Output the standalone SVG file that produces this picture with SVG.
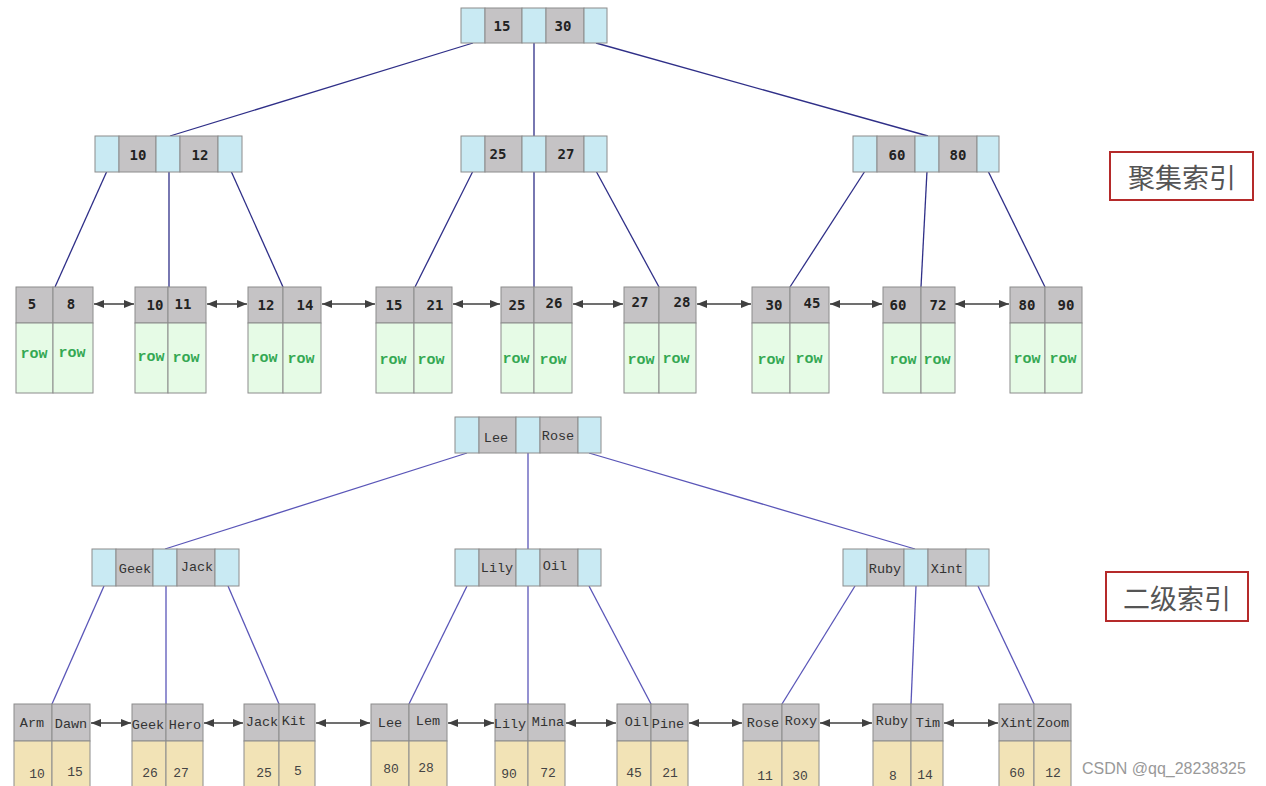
<svg xmlns="http://www.w3.org/2000/svg" width="1266" height="786" viewBox="0 0 1266 786">
<style>
.b{fill:#c9eaf3;stroke:#8c8c8c;stroke-width:1}
.g{fill:#c5c3c5;stroke:#8c8c8c;stroke-width:1}
.gr{fill:#e6fbe6;stroke:#8c8c8c;stroke-width:1}
.y{fill:#f2e3b6;stroke:#8c8c8c;stroke-width:1}
.kn{font-family:"DejaVu Sans Mono",monospace;font-weight:bold;font-size:14px;fill:#222;text-anchor:middle;dominant-baseline:central}
.row{font-family:"Courier New","Nimbus Mono PS","FreeMono","Liberation Mono",monospace;font-weight:bold;font-size:15px;fill:#34a853;text-anchor:middle;dominant-baseline:central}
.kt{font-family:"Courier New","Nimbus Mono PS","FreeMono","Liberation Mono",monospace;font-size:13.5px;fill:#333;text-anchor:middle;dominant-baseline:central}
.nv{font-family:"Courier New","Nimbus Mono PS","FreeMono","Liberation Mono",monospace;font-size:13px;fill:#444;text-anchor:middle;dominant-baseline:central}
.lt{stroke:#2f2f88;stroke-width:1.3;fill:none}
.lb{stroke:#5a56b8;stroke-width:1.3;fill:none}
.ar{stroke:#404040;stroke-width:1.3;fill:none;marker-start:url(#ah);marker-end:url(#ah)}
.lbl{font-family:"Noto Sans CJK SC","Noto Sans",sans-serif;font-size:27px;fill:#555;text-anchor:middle;dominant-baseline:central}
.box{fill:#fff;stroke:#b52a2a;stroke-width:2}
.wm{font-family:"Liberation Sans",Arial,sans-serif;font-size:16px;fill:#999}
</style>
<defs>
<marker id="ah" viewBox="0 0 10 8" refX="10" refY="4" markerWidth="10" markerHeight="8" markerUnits="userSpaceOnUse" orient="auto-start-reverse">
<path d="M0,0 L10,4 L0,8 Z" fill="#404040"/>
</marker>
</defs>
<rect width="1266" height="786" fill="#ffffff"/>

<g id="connectors">
<line class="lt" x1="473" y1="43" x2="170" y2="136"/>
<line class="lt" x1="534" y1="43" x2="534" y2="136"/>
<line class="lt" x1="596" y1="43" x2="928" y2="136"/>
<line class="lt" x1="107" y1="171" x2="55" y2="287"/>
<line class="lt" x1="169" y1="171" x2="169" y2="287"/>
<line class="lt" x1="231" y1="171" x2="283" y2="287"/>
<line class="lt" x1="473" y1="171" x2="415" y2="287"/>
<line class="lt" x1="534" y1="171" x2="534" y2="287"/>
<line class="lt" x1="596" y1="171" x2="659" y2="287"/>
<line class="lt" x1="865" y1="171" x2="790" y2="287"/>
<line class="lt" x1="927" y1="171" x2="921" y2="287"/>
<line class="lt" x1="988" y1="171" x2="1045" y2="287"/>
<line class="ar" x1="94" y1="304" x2="134" y2="304"/>
<line class="ar" x1="207" y1="304" x2="247" y2="304"/>
<line class="ar" x1="322" y1="304" x2="375" y2="304"/>
<line class="ar" x1="453" y1="304" x2="500" y2="304"/>
<line class="ar" x1="573" y1="304" x2="623" y2="304"/>
<line class="ar" x1="697" y1="304" x2="751" y2="304"/>
<line class="ar" x1="830" y1="304" x2="882" y2="304"/>
<line class="ar" x1="955" y1="304" x2="1009" y2="304"/>

<line class="lb" x1="467" y1="453" x2="165" y2="549"/>
<line class="lb" x1="528" y1="453" x2="528" y2="549"/>
<line class="lb" x1="589" y1="453" x2="915" y2="549"/>
<line class="lb" x1="104" y1="586" x2="52" y2="704"/>
<line class="lb" x1="166" y1="586" x2="166" y2="704"/>
<line class="lb" x1="228" y1="586" x2="279" y2="704"/>
<line class="lb" x1="467" y1="586" x2="409" y2="704"/>
<line class="lb" x1="528" y1="586" x2="528" y2="704"/>
<line class="lb" x1="589" y1="586" x2="651" y2="704"/>
<line class="lb" x1="855" y1="586" x2="782" y2="704"/>
<line class="lb" x1="916" y1="586" x2="911" y2="704"/>
<line class="lb" x1="978" y1="586" x2="1034" y2="704"/>
<line class="ar" x1="91" y1="723" x2="131" y2="723"/>
<line class="ar" x1="204" y1="723" x2="243" y2="723"/>
<line class="ar" x1="316" y1="723" x2="370" y2="723"/>
<line class="ar" x1="448" y1="723" x2="494" y2="723"/>
<line class="ar" x1="566" y1="723" x2="616" y2="723"/>
<line class="ar" x1="689" y1="723" x2="742" y2="723"/>
<line class="ar" x1="820" y1="723" x2="872" y2="723"/>
<line class="ar" x1="944" y1="723" x2="998" y2="723"/>
</g>

<!-- Top tree internal nodes -->
<g id="t-root">
<rect class="b" x="461" y="8" width="24" height="35"/><rect class="g" x="485" y="8" width="37" height="35"/><rect class="b" x="522" y="8" width="24" height="35"/><rect class="g" x="546" y="8" width="38" height="35"/><rect class="b" x="584" y="8" width="23" height="35"/>
<text class="kn" x="502" y="26">15</text><text class="kn" x="563" y="26">30</text>
</g>
<g id="t-n1">
<rect class="b" x="95" y="136" width="24" height="36"/><rect class="g" x="119" y="136" width="37" height="36"/><rect class="b" x="156" y="136" width="24" height="36"/><rect class="g" x="180" y="136" width="38" height="36"/><rect class="b" x="218" y="136" width="24" height="36"/>
<text class="kn" x="138" y="155">10</text><text class="kn" x="200" y="155">12</text>
</g>
<g id="t-n2">
<rect class="b" x="461" y="136" width="24" height="36"/><rect class="g" x="485" y="136" width="37" height="36"/><rect class="b" x="522" y="136" width="24" height="36"/><rect class="g" x="546" y="136" width="38" height="36"/><rect class="b" x="584" y="136" width="23" height="36"/>
<text class="kn" x="498" y="154">25</text><text class="kn" x="566" y="154">27</text>
</g>
<g id="t-n3">
<rect class="b" x="853" y="136" width="24" height="36"/><rect class="g" x="877" y="136" width="38" height="36"/><rect class="b" x="915" y="136" width="24" height="36"/><rect class="g" x="939" y="136" width="38" height="36"/><rect class="b" x="977" y="136" width="22" height="36"/>
<text class="kn" x="897" y="155">60</text><text class="kn" x="958" y="155">80</text>
</g>

<!-- Top leaves -->
<g id="t-l1">
<rect class="g" x="16" y="287" width="37" height="36"/><rect class="g" x="53" y="287" width="40" height="36"/><rect class="gr" x="16" y="323" width="37" height="70"/><rect class="gr" x="53" y="323" width="40" height="70"/>
<text class="kn" x="32" y="304">5</text><text class="kn" x="71" y="304">8</text><text class="row" x="34" y="354">row</text><text class="row" x="72" y="353">row</text>
</g>
<g id="t-l2">
<rect class="g" x="135" y="287" width="33" height="36"/><rect class="g" x="168" y="287" width="38" height="36"/><rect class="gr" x="135" y="323" width="33" height="70"/><rect class="gr" x="168" y="323" width="38" height="70"/>
<text class="kn" x="155" y="305">10</text><text class="kn" x="183" y="304">11</text><text class="row" x="151" y="357">row</text><text class="row" x="186" y="358">row</text>
</g>
<g id="t-l3">
<rect class="g" x="248" y="287" width="35" height="36"/><rect class="g" x="283" y="287" width="38" height="36"/><rect class="gr" x="248" y="323" width="35" height="70"/><rect class="gr" x="283" y="323" width="38" height="70"/>
<text class="kn" x="266" y="305">12</text><text class="kn" x="305" y="305">14</text><text class="row" x="264" y="358">row</text><text class="row" x="301" y="359">row</text>
</g>
<g id="t-l4">
<rect class="g" x="376" y="287" width="38" height="36"/><rect class="g" x="414" y="287" width="38" height="36"/><rect class="gr" x="376" y="323" width="38" height="70"/><rect class="gr" x="414" y="323" width="38" height="70"/>
<text class="kn" x="394" y="305">15</text><text class="kn" x="435" y="305">21</text><text class="row" x="393" y="360">row</text><text class="row" x="431" y="360">row</text>
</g>
<g id="t-l5">
<rect class="g" x="501" y="287" width="33" height="36"/><rect class="g" x="534" y="287" width="38" height="36"/><rect class="gr" x="501" y="323" width="33" height="70"/><rect class="gr" x="534" y="323" width="38" height="70"/>
<text class="kn" x="517" y="305">25</text><text class="kn" x="554" y="303">26</text><text class="row" x="516" y="359">row</text><text class="row" x="553" y="360">row</text>
</g>
<g id="t-l6">
<rect class="g" x="624" y="287" width="35" height="36"/><rect class="g" x="659" y="287" width="37" height="36"/><rect class="gr" x="624" y="323" width="35" height="70"/><rect class="gr" x="659" y="323" width="37" height="70"/>
<text class="kn" x="640" y="302">27</text><text class="kn" x="682" y="302">28</text><text class="row" x="641" y="360">row</text><text class="row" x="676" y="359">row</text>
</g>
<g id="t-l7">
<rect class="g" x="752" y="287" width="38" height="36"/><rect class="g" x="790" y="287" width="39" height="36"/><rect class="gr" x="752" y="323" width="38" height="70"/><rect class="gr" x="790" y="323" width="39" height="70"/>
<text class="kn" x="774" y="305">30</text><text class="kn" x="812" y="303">45</text><text class="row" x="771" y="360">row</text><text class="row" x="809" y="359">row</text>
</g>
<g id="t-l8">
<rect class="g" x="883" y="287" width="38" height="36"/><rect class="g" x="921" y="287" width="34" height="36"/><rect class="gr" x="883" y="323" width="38" height="70"/><rect class="gr" x="921" y="323" width="34" height="70"/>
<text class="kn" x="898" y="305">60</text><text class="kn" x="938" y="305">72</text><text class="row" x="903" y="360">row</text><text class="row" x="937" y="360">row</text>
</g>
<g id="t-l9">
<rect class="g" x="1010" y="287" width="35" height="36"/><rect class="g" x="1045" y="287" width="37" height="36"/><rect class="gr" x="1010" y="323" width="35" height="70"/><rect class="gr" x="1045" y="323" width="37" height="70"/>
<text class="kn" x="1027" y="305">80</text><text class="kn" x="1066" y="305">90</text><text class="row" x="1027" y="359">row</text><text class="row" x="1063" y="359">row</text>
</g>

<!-- Bottom tree internal nodes -->
<g id="b-root">
<rect class="b" x="455" y="417" width="24" height="36"/><rect class="g" x="479" y="417" width="37" height="36"/><rect class="b" x="516" y="417" width="24" height="36"/><rect class="g" x="540" y="417" width="38" height="36"/><rect class="b" x="578" y="417" width="23" height="36"/>
<text class="kt" x="496" y="438">Lee</text><text class="kt" x="558" y="436">Rose</text>
</g>
<g id="b-n1">
<rect class="b" x="92" y="549" width="24" height="37"/><rect class="g" x="116" y="549" width="37" height="37"/><rect class="b" x="153" y="549" width="24" height="37"/><rect class="g" x="177" y="549" width="38" height="37"/><rect class="b" x="215" y="549" width="24" height="37"/>
<text class="kt" x="135" y="569">Geek</text><text class="kt" x="197" y="567">Jack</text>
</g>
<g id="b-n2">
<rect class="b" x="455" y="549" width="24" height="37"/><rect class="g" x="479" y="549" width="37" height="37"/><rect class="b" x="516" y="549" width="24" height="37"/><rect class="g" x="540" y="549" width="38" height="37"/><rect class="b" x="578" y="549" width="23" height="37"/>
<text class="kt" x="497" y="568">Lily</text><text class="kt" x="555" y="566">Oil</text>
</g>
<g id="b-n3">
<rect class="b" x="843" y="549" width="24" height="37"/><rect class="g" x="867" y="549" width="37" height="37"/><rect class="b" x="904" y="549" width="24" height="37"/><rect class="g" x="928" y="549" width="38" height="37"/><rect class="b" x="966" y="549" width="23" height="37"/>
<text class="kt" x="885" y="569">Ruby</text><text class="kt" x="947" y="569">Xint</text>
</g>

<!-- Bottom leaves -->
<g id="b-l1">
<rect class="g" x="14" y="704" width="38" height="37"/><rect class="g" x="52" y="704" width="38" height="37"/><rect class="y" x="14" y="741" width="38" height="50"/><rect class="y" x="52" y="741" width="38" height="50"/>
<text class="kt" x="32" y="723">Arm</text><text class="kt" x="71" y="724">Dawn</text><text class="nv" x="37" y="774">10</text><text class="nv" x="75" y="772">15</text>
</g>
<g id="b-l2">
<rect class="g" x="132" y="704" width="34" height="37"/><rect class="g" x="166" y="704" width="37" height="37"/><rect class="y" x="132" y="741" width="34" height="50"/><rect class="y" x="166" y="741" width="37" height="50"/>
<text class="kt" x="148" y="725">Geek</text><text class="kt" x="185" y="725">Hero</text><text class="nv" x="150" y="773">26</text><text class="nv" x="181" y="773">27</text>
</g>
<g id="b-l3">
<rect class="g" x="244" y="704" width="35" height="37"/><rect class="g" x="279" y="704" width="36" height="37"/><rect class="y" x="244" y="741" width="35" height="50"/><rect class="y" x="279" y="741" width="36" height="50"/>
<text class="kt" x="262" y="722">Jack</text><text class="kt" x="294" y="721">Kit</text><text class="nv" x="264" y="773">25</text><text class="nv" x="298" y="771">5</text>
</g>
<g id="b-l4">
<rect class="g" x="371" y="704" width="38" height="37"/><rect class="g" x="409" y="704" width="38" height="37"/><rect class="y" x="371" y="741" width="38" height="50"/><rect class="y" x="409" y="741" width="38" height="50"/>
<text class="kt" x="390" y="723">Lee</text><text class="kt" x="428" y="721">Lem</text><text class="nv" x="391" y="769">80</text><text class="nv" x="426" y="768">28</text>
</g>
<g id="b-l5">
<rect class="g" x="495" y="704" width="33" height="37"/><rect class="g" x="528" y="704" width="37" height="37"/><rect class="y" x="495" y="741" width="33" height="50"/><rect class="y" x="528" y="741" width="37" height="50"/>
<text class="kt" x="510" y="724">Lily</text><text class="kt" x="548" y="722">Mina</text><text class="nv" x="509" y="774">90</text><text class="nv" x="548" y="773">72</text>
</g>
<g id="b-l6">
<rect class="g" x="617" y="704" width="34" height="37"/><rect class="g" x="651" y="704" width="37" height="37"/><rect class="y" x="617" y="741" width="34" height="50"/><rect class="y" x="651" y="741" width="37" height="50"/>
<text class="kt" x="637" y="722">Oil</text><text class="kt" x="668" y="724">Pine</text><text class="nv" x="634" y="773">45</text><text class="nv" x="670" y="773">21</text>
</g>
<g id="b-l7">
<rect class="g" x="743" y="704" width="39" height="37"/><rect class="g" x="782" y="704" width="37" height="37"/><rect class="y" x="743" y="741" width="39" height="50"/><rect class="y" x="782" y="741" width="37" height="50"/>
<text class="kt" x="763" y="723">Rose</text><text class="kt" x="801" y="721">Roxy</text><text class="nv" x="765" y="776">11</text><text class="nv" x="800" y="776">30</text>
</g>
<g id="b-l8">
<rect class="g" x="873" y="704" width="38" height="37"/><rect class="g" x="911" y="704" width="32" height="37"/><rect class="y" x="873" y="741" width="38" height="50"/><rect class="y" x="911" y="741" width="32" height="50"/>
<text class="kt" x="892" y="721">Ruby</text><text class="kt" x="928" y="723">Tim</text><text class="nv" x="893" y="776">8</text><text class="nv" x="925" y="775">14</text>
</g>
<g id="b-l9">
<rect class="g" x="999" y="704" width="35" height="37"/><rect class="g" x="1034" y="704" width="37" height="37"/><rect class="y" x="999" y="741" width="35" height="50"/><rect class="y" x="1034" y="741" width="37" height="50"/>
<text class="kt" x="1017" y="723">Xint</text><text class="kt" x="1053" y="723">Zoom</text><text class="nv" x="1017" y="773">60</text><text class="nv" x="1053" y="773">12</text>
</g>

<g id="label-clustered">
<rect class="box" x="1110" y="152" width="143" height="48"/>
<text class="lbl" x="1182" y="176">聚集索引</text>
</g>
<g id="label-secondary">
<rect class="box" x="1106" y="572" width="142" height="49"/>
<text class="lbl" x="1177" y="597">二级索引</text>
</g>
<text class="wm" x="1082" y="774">CSDN @qq_28238325</text>
</svg>
